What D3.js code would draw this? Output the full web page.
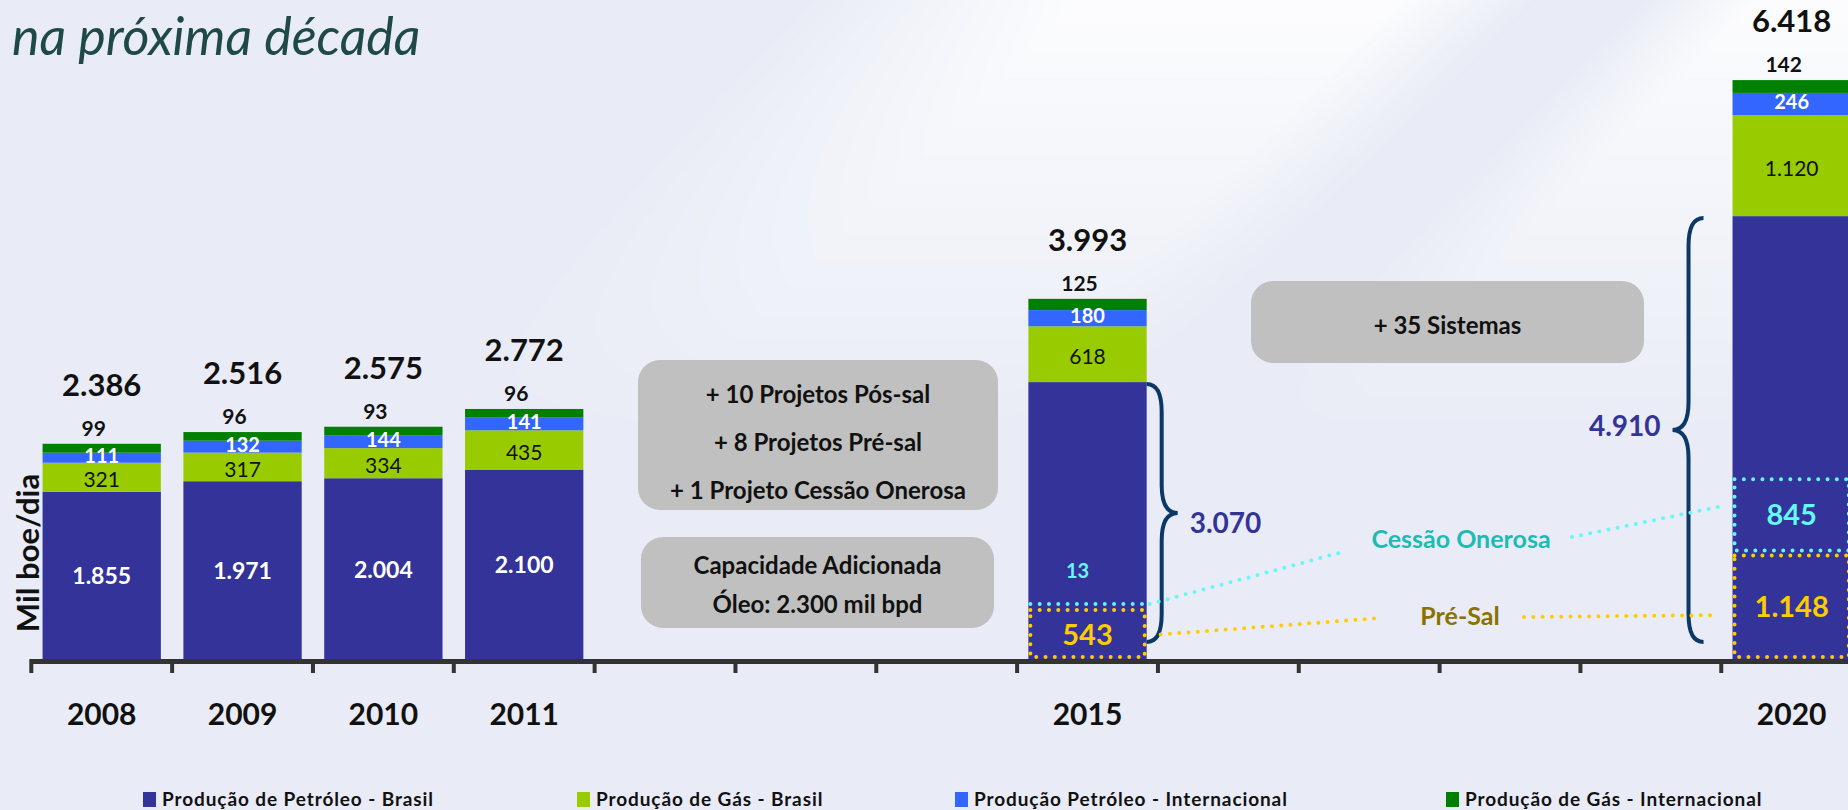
<!DOCTYPE html>
<html>
<head>
<meta charset="utf-8">
<script src="https://cdn.jsdelivr.net/npm/d3@7"></script>
<style>
    html, body { margin: 0; padding: 0; background: #eceff7; overflow: hidden; }
    svg { display: block; font-family: Lato, 'Open Sans', sans-serif; }
</style>
</head>
<body>
<div id="chart"></div>
<script>
// Data
const axisYears = ['2008', '2009', '2010', '2011', '2012', '2013', '2014', '2015', '2016', '2017', '2018', '2019', '2020'];
const years = ['2008', '2009', '2010', '2011', '2015', '2020'];
const seriesNames = ['Produção de Petróleo - Brasil', 'Produção de Gás - Brasil', 'Produção Petróleo - Internacional', 'Produção de Gás - Internacional'];
const oilBrasil = [1855, 1971, 2004, 2100, 3070, 4910];
const gasBrasil = [321, 317, 334, 435, 618, 1120];
const oilIntl = [111, 132, 144, 141, 180, 246];
const gasIntl = [99, 96, 93, 96, 125, 142];
const totals = [2386, 2516, 2575, 2772, 3993, 6418];

const breakdownYears = ['2015', '2020'];
const preSal = [543, 1148];
const cessaoOnerosa = [13, 845];

const projectNotes = ['+ 10 Projetos Pós-sal', '+ 8 Projetos Pré-sal', '+ 1 Projeto Cessão Onerosa'];
const capacityNotes = ['Capacidade Adicionada', 'Óleo: 2.300 mil bpd'];
const systemNotes = ['+ 35 Sistemas'];
const titleText = 'na próxima década';
const yLabel = 'Mil boe/dia';

document.addEventListener('DOMContentLoaded', () => {
    const width = 1848
    const height = 810
    const baseY = 659

    const svg = d3.select('#chart')
        .append('svg')
        .attr('width', width)
        .attr('height', height);

    const fmt = d3.formatLocale({ decimal: ',', thousands: '.', grouping: [3], currency: ['', ''] }).format(',d');

    // Background with the light diagonal streaks
    const defs = svg.append('defs');
    const streak = defs.append('linearGradient')
        .attr('id', 'streak')
        .attr('gradientUnits', 'userSpaceOnUse')
        .attr('x1', 0).attr('y1', 0).attr('x2', 2000).attr('y2', 2000);
    [[0, 0], [0.2, 0], [0.27, 0.85], [0.35, 0.85], [0.385, 0], [0.41, 0], [0.44, 0.85], [1, 0.85]]
        .forEach(([o, a]) => streak.append('stop').attr('offset', o).attr('stop-color', '#ffffff').attr('stop-opacity', a));
    const fade = defs.append('linearGradient')
        .attr('id', 'fade')
        .attr('x1', 0).attr('y1', 0).attr('x2', 0).attr('y2', 1);
    fade.append('stop').attr('offset', 0).attr('stop-color', '#fff');
    fade.append('stop').attr('offset', 0.55).attr('stop-color', '#000');
    defs.append('mask').attr('id', 'fadeMask')
        .append('rect').attr('width', width).attr('height', height).attr('fill', 'url(#fade)');

    svg.append('rect').attr('width', width).attr('height', height).attr('fill', '#e9ecf6');
    svg.append('rect').attr('width', width).attr('height', height)
        .attr('fill', 'url(#streak)').attr('mask', 'url(#fadeMask)');

    // Scales
    const step = 140.83
    const x = d3.scaleBand()
        .domain(axisYears)
        .range([31.3, 31.3 + axisYears.length * step])
        .paddingInner(0.16)
        .paddingOuter(0.08);
    const bw = x.bandwidth();
    const y = d3.scaleLinear()
        .domain([0, 7000])
        .range([baseY, baseY - 7000 * 0.0902]);

    const keys = ['oilBrasil', 'gasBrasil', 'oilIntl', 'gasIntl'];
    const colourScale = d3.scaleOrdinal()
        .domain(keys)
        .range(['#333399', '#99cc00', '#3366ff', '#008000']);

    const table = years.map((year, i) => ({
        year: year,
        oilBrasil: oilBrasil[i],
        gasBrasil: gasBrasil[i],
        oilIntl: oilIntl[i],
        gasIntl: gasIntl[i],
        total: totals[i]
    }));
    const stackedData = d3.stack().keys(keys)(table);

    // Title
    svg.append('text')
        .attr('x', 12)
        .attr('y', 55)
        .attr('font-size', 52)
        .attr('font-style', 'italic')
        .attr('fill', '#1f4848')
        .text(titleText);

    // Bars
    svg.append('g')
        .selectAll('g')
        .data(stackedData)
        .enter()
        .append('g')
        .attr('fill', d => colourScale(d.key))
        .selectAll('rect')
        .data(d => d)
        .enter()
        .append('rect')
        .attr('x', d => x(d.data.year))
        .attr('y', d => y(d[1]))
        .attr('width', bw)
        .attr('height', d => y(d[0]) - y(d[1]));

    // Axis
    const axisG = svg.append('g');
    axisG.append('line')
        .attr('x1', x(axisYears[0]) - (step - bw) / 2)
        .attr('x2', width)
        .attr('y1', baseY + 2.5)
        .attr('y2', baseY + 2.5)
        .attr('stroke', '#333')
        .attr('stroke-width', 5);
    axisG.selectAll('.tick')
        .data(axisYears)
        .enter()
        .append('line')
        .attr('class', 'tick')
        .attr('x1', d => x(d) - (step - bw) / 2)
        .attr('x2', d => x(d) - (step - bw) / 2)
        .attr('y1', baseY)
        .attr('y2', baseY + 14)
        .attr('stroke', '#333')
        .attr('stroke-width', 4);

    svg.append('g')
        .selectAll('text')
        .data(years)
        .enter()
        .append('text')
        .attr('x', d => x(d) + bw / 2)
        .attr('y', 725)
        .attr('text-anchor', 'middle')
        .attr('font-size', 30)
        .attr('font-weight', 700)
        .attr('fill', '#111')
        .text(d => d);

    // Y label
    svg.append('text')
        .attr('transform', 'translate(39, 553) rotate(-90)')
        .attr('text-anchor', 'middle')
        .attr('font-size', 31)
        .attr('font-weight', 700)
        .attr('fill', '#111')
        .text(yLabel);

    // Segment labels
    const labels = svg.append('g').attr('text-anchor', 'middle');
    const mid = d => (y(d[0]) + y(d[1])) / 2;
    const cx = d => x(d.data.year) + bw / 2;

    labels.selectAll('.lbl-gasIntl')
        .data(stackedData[3])
        .enter()
        .append('text')
        .attr('x', d => cx(d) - 8)
        .attr('y', d => y(d[1]) - 8)
        .attr('font-size', 21)
        .attr('font-weight', 700)
        .attr('fill', '#111')
        .text(d => fmt(d[1] - d[0]));

    labels.selectAll('.lbl-oilIntl')
        .data(stackedData[2])
        .enter()
        .append('text')
        .attr('x', cx)
        .attr('y', d => mid(d) + 5)
        .attr('font-size', 20)
        .attr('font-weight', 700)
        .attr('fill', '#fff')
        .text(d => fmt(d[1] - d[0]));

    labels.selectAll('.lbl-gasBrasil')
        .data(stackedData[1])
        .enter()
        .append('text')
        .attr('x', cx)
        .attr('y', d => mid(d) + 10)
        .attr('font-size', 21)
        .attr('font-weight', 400)
        .attr('fill', '#111')
        .text(d => fmt(d[1] - d[0]));

    labels.selectAll('.lbl-oilBrasil')
        .data(stackedData[0].filter(d => !breakdownYears.includes(d.data.year)))
        .enter()
        .append('text')
        .attr('x', cx)
        .attr('y', d => mid(d) + 9)
        .attr('font-size', 23)
        .attr('font-weight', 700)
        .attr('fill', '#fff')
        .text(d => fmt(d[1] - d[0]));

    labels.selectAll('.lbl-total')
        .data(table)
        .enter()
        .append('text')
        .attr('x', d => x(d.year) + bw / 2)
        .attr('y', d => y(d.total) - 48)
        .attr('font-size', 31)
        .attr('font-weight', 700)
        .attr('fill', '#111')
        .text(d => fmt(d.total));

    // Pré-sal / Cessão Onerosa breakdown boxes
    const dotted = (sel, colour) => sel
        .attr('fill', 'none')
        .attr('stroke', colour)
        .attr('stroke-width', 4)
        .attr('stroke-linecap', 'round')
        .attr('stroke-dasharray', '0 9.3');

    const yellow = '#ffcc00';
    const cyan = '#66f7f7';
    const breakdown = breakdownYears.map((year, i) => ({ year, pre: preSal[i], ces: cessaoOnerosa[i] }));

    breakdown.forEach(b => {
        const x0 = x(b.year) + 2;
        const yPre = y(b.pre);
        svg.append('rect')
            .attr('x', x0)
            .attr('y', yPre)
            .attr('width', bw - 4)
            .attr('height', baseY - 2 - yPre)
            .call(dotted, yellow);
        svg.append('text')
            .attr('x', x(b.year) + bw / 2)
            .attr('y', (yPre + baseY) / 2 + 10)
            .attr('text-anchor', 'middle')
            .attr('font-size', 29)
            .attr('font-weight', 700)
            .attr('fill', yellow)
            .text(fmt(b.pre));

        const yTop = y(b.pre + b.ces);
        const yBottom = yPre - 5;
        if (yBottom - yTop > 20) {
            svg.append('rect')
                .attr('x', x0)
                .attr('y', yTop)
                .attr('width', bw - 4)
                .attr('height', yBottom - yTop)
                .call(dotted, cyan);
            svg.append('text')
                .attr('x', x(b.year) + bw / 2)
                .attr('y', (yTop + yBottom) / 2 + 10)
                .attr('text-anchor', 'middle')
                .attr('font-size', 29)
                .attr('font-weight', 700)
                .attr('fill', cyan)
                .text(fmt(b.ces));
        } else {
            svg.append('line')
                .attr('x1', x0)
                .attr('x2', x0 + bw - 4)
                .attr('y1', yPre - 6)
                .attr('y2', yPre - 6)
                .call(dotted, cyan);
            svg.append('text')
                .attr('x', x(b.year) + bw / 2 - 10)
                .attr('y', yPre - 32)
                .attr('text-anchor', 'middle')
                .attr('font-size', 20)
                .attr('font-weight', 700)
                .attr('fill', cyan)
                .text(fmt(b.ces));
        }
    });

    // Braces around the Brazil oil share
    function bracePath(edge, yTop, yBot, dir) {
        const h = 15, t = 31, r = 28;
        const yMid = (yTop + yBot) / 2;
        const p = d3.path();
        p.moveTo(edge, yTop);
        p.quadraticCurveTo(edge + dir * h, yTop, edge + dir * h, yTop + r);
        p.lineTo(edge + dir * h, yMid - r);
        p.quadraticCurveTo(edge + dir * h, yMid, edge + dir * t, yMid);
        p.quadraticCurveTo(edge + dir * h, yMid, edge + dir * h, yMid + r);
        p.lineTo(edge + dir * h, yBot - r);
        p.quadraticCurveTo(edge + dir * h, yBot, edge, yBot);
        return p.toString();
    }

    const braces = [
        { year: '2015', edge: x('2015') + bw, dir: 1 },
        { year: '2020', edge: x('2020') - 29, dir: -1 }
    ];
    braces.forEach(b => {
        const value = oilBrasil[years.indexOf(b.year)];
        const yTop = y(value) + 2;
        const yBot = baseY - 17;
        const yMid = (yTop + yBot) / 2;
        svg.append('path')
            .attr('d', bracePath(b.edge, yTop, yBot, b.dir))
            .attr('fill', 'none')
            .attr('stroke', '#0b3866')
            .attr('stroke-width', 4);
        svg.append('text')
            .attr('x', b.edge + b.dir * 43)
            .attr('y', yMid + (b.dir > 0 ? 20 : 6))
            .attr('text-anchor', b.dir > 0 ? 'start' : 'end')
            .attr('font-size', 28)
            .attr('font-weight', 700)
            .attr('fill', '#333399')
            .text(fmt(value));
    });

    // Connectors between 2015 and 2020
    const x15 = x('2015') + bw;
    const x20 = x('2020');
    const ces15 = y(preSal[0]) - 6;
    const ces20 = (y(preSal[1] + cessaoOnerosa[1]) + y(preSal[1]) - 5) / 2 - 8;
    const pre15 = (y(preSal[0]) + baseY) / 2;
    const pre20 = (y(preSal[1]) + baseY) / 2 + 8;

    const cesLabel = { x: 1461, y: 548 };
    const preLabel = { x: 1460, y: 625 };

    [[[x15 + 3, ces15], [1339, 553]], [[1572, 537], [x20 - 14, ces20]]].forEach(seg => {
        svg.append('line')
            .attr('x1', seg[0][0]).attr('y1', seg[0][1])
            .attr('x2', seg[1][0]).attr('y2', seg[1][1])
            .call(dotted, cyan);
    });
    [[[x15 + 14, pre15], [1380, 618]], [[1524, 617], [x20 - 21, pre20]]].forEach(seg => {
        svg.append('line')
            .attr('x1', seg[0][0]).attr('y1', seg[0][1])
            .attr('x2', seg[1][0]).attr('y2', seg[1][1])
            .call(dotted, yellow);
    });

    svg.append('text')
        .attr('x', cesLabel.x).attr('y', cesLabel.y)
        .attr('text-anchor', 'middle')
        .attr('font-size', 25)
        .attr('font-weight', 700)
        .attr('fill', '#1cbcb4')
        .text('Cessão Onerosa');
    svg.append('text')
        .attr('x', preLabel.x).attr('y', preLabel.y)
        .attr('text-anchor', 'middle')
        .attr('font-size', 25)
        .attr('font-weight', 700)
        .attr('fill', '#8a7200')
        .text('Pré-Sal');

    // Gray note boxes
    const boxes = [
        { x0: 638, y0: 360, x1: 998, y1: 510, lines: projectNotes, first: 403, gap: 48 },
        { x0: 641, y0: 537, x1: 994, y1: 628, lines: capacityNotes, first: 574, gap: 39 },
        { x0: 1251, y0: 281, x1: 1644, y1: 363, lines: systemNotes, first: 334, gap: 0 }
    ];
    boxes.forEach(b => {
        svg.append('rect')
            .attr('x', b.x0).attr('y', b.y0)
            .attr('width', b.x1 - b.x0).attr('height', b.y1 - b.y0)
            .attr('rx', 22)
            .attr('fill', '#c0c0c0');
        svg.append('g')
            .selectAll('text')
            .data(b.lines)
            .enter()
            .append('text')
            .attr('x', (b.x0 + b.x1) / 2)
            .attr('y', (d, i) => b.first + i * b.gap)
            .attr('text-anchor', 'middle')
            .attr('font-size', 24)
            .attr('font-weight', 700)
            .attr('fill', '#111')
            .text(d => d);
    });

    // Legend
    const legendX = [143, 577, 955, 1446];
    const legend = svg.selectAll('.legend')
        .data(keys)
        .enter()
        .append('g')
        .attr('class', 'legend')
        .attr('transform', (d, i) => `translate(${legendX[i]}, 792)`);
    legend.append('rect')
        .attr('width', 13)
        .attr('height', 15)
        .attr('fill', d => colourScale(d));
    legend.append('text')
        .attr('x', 19)
        .attr('y', 14)
        .attr('font-size', 19)
        .attr('font-weight', 700)
        .attr('letter-spacing', 0.9)
        .attr('fill', '#111')
        .text((d, i) => seriesNames[i]);
});
</script>
</body>
</html>
